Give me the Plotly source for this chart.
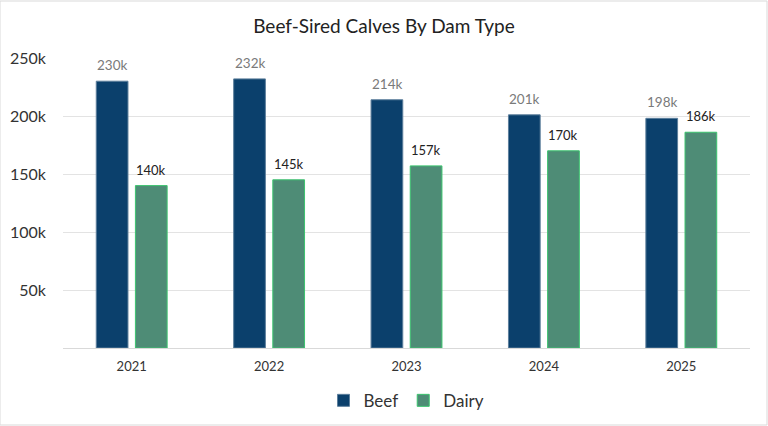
import plotly.graph_objects as go

years = ["2021", "2022", "2023", "2024", "2025"]
beef = [230000, 232000, 214000, 201000, 198000]
dairy = [140000, 145000, 157000, 170000, 186000]
beef_labels = ["230k", "232k", "214k", "201k", "198k"]
dairy_labels = ["140k", "145k", "157k", "170k", "186k"]
y_ticks = [50000, 100000, 150000, 200000, 250000]
y_tick_labels = ["50k", "100k", "150k", "200k", "250k"]

FONT = "Lato"
HALF_SLOT = 19.5  # px offset of each bar from its category centre

fig = go.Figure()
fig.add_trace(go.Bar(
    name="Beef", x=years, y=beef,
    marker=dict(color="#0B406C", line=dict(color="#5d7f9c", width=1)),
))
fig.add_trace(go.Bar(
    name="Dairy", x=years, y=dairy,
    marker=dict(color="#4E8C76", line=dict(color="#3cc46f", width=1)),
))

annotations = []
for i, (v, lab) in enumerate(zip(beef, beef_labels)):
    annotations.append(dict(x=i, y=v, text=lab, xref="x", yref="y", showarrow=False,
                            xanchor="center", yanchor="bottom", xshift=-HALF_SLOT, yshift=6,
                            font=dict(family=FONT, size=13.5, color="#7a7a7a")))
for i, (v, lab) in enumerate(zip(dairy, dairy_labels)):
    annotations.append(dict(x=i, y=v, text=lab, xref="x", yref="y", showarrow=False,
                            xanchor="center", yanchor="bottom", xshift=HALF_SLOT, yshift=6,
                            font=dict(family=FONT, size=13, color="#222222")))

fig.update_layout(
    width=768, height=426,
    margin=dict(l=63, r=18, t=58, b=78, autoexpand=False),
    paper_bgcolor="white", plot_bgcolor="white",
    barmode="group", bargap=0.43, bargroupgap=0.19,
    title=dict(text="Beef-Sired Calves By Dam Type", x=0.5, xanchor="center",
               y=1 - 26 / 426, yanchor="middle",
               font=dict(family=FONT, size=19, color="#222222")),
    font=dict(family=FONT, color="#333333"),
    showlegend=True,
    legend=dict(orientation="h", x=0.5, xanchor="center", y=-0.12, yanchor="top",
                font=dict(family=FONT, size=17, color="#333333"),
                itemwidth=30, traceorder="normal"),
    xaxis=dict(type="category", range=[-0.5, len(years) - 0.5],
               showgrid=False, showline=True, linecolor="#d9d9d9", linewidth=1,
               ticks="", ticklabelstandoff=6,
               tickfont=dict(size=13, color="#333333", family=FONT)),
    yaxis=dict(range=[0, 250000], tickvals=y_ticks, ticktext=y_tick_labels,
               showgrid=True, gridcolor="#e3e3e3", gridwidth=1, zeroline=False,
               showline=False, ticks="", ticklabelstandoff=16,
               tickfont=dict(size=16, color="#333333", family=FONT)),
    annotations=annotations,
    shapes=[dict(type="rect", xref="paper", yref="paper", x0=-63 / 687, x1=1 + 17 / 687,
                 y0=-77 / 290, y1=1 + 57 / 290, line=dict(color="#d9d9d9", width=1),
                 fillcolor="rgba(0,0,0,0)", layer="below")],
)

fig.write_html("out.html")
